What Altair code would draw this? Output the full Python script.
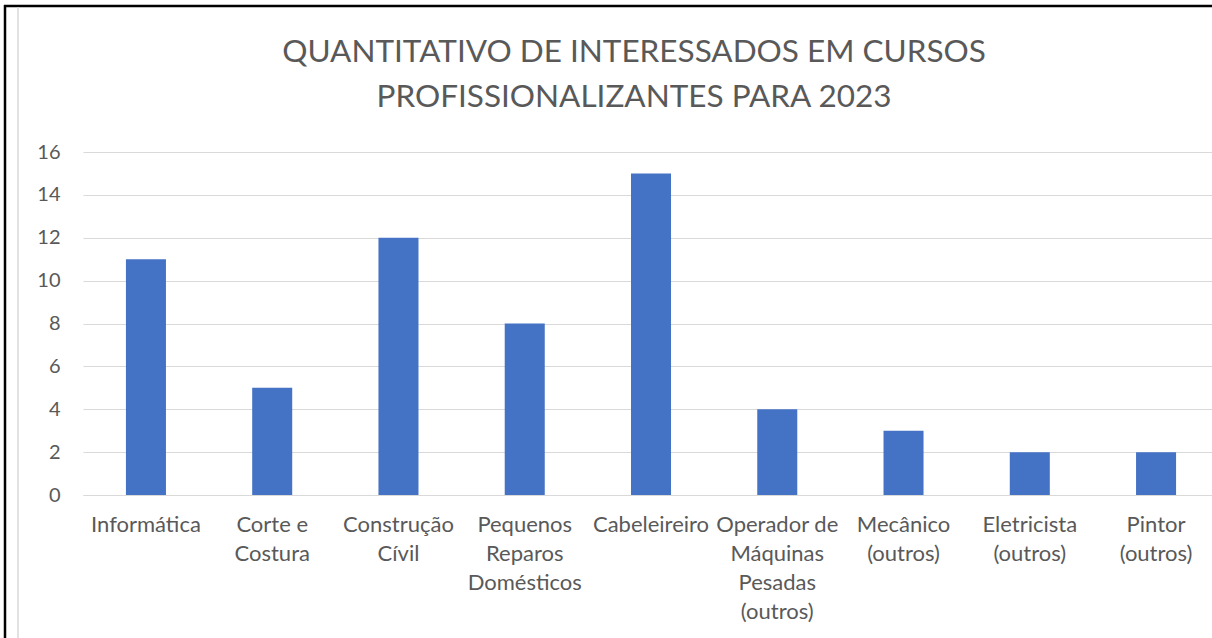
import altair as alt
import pandas as pd

categories = [
    "Informática",
    "Corte e|Costura",
    "Construção|Cívil",
    "Pequenos|Reparos|Domésticos",
    "Cabeleireiro",
    "Operador de|Máquinas|Pesadas|(outros)",
    "Mecânico|(outros)",
    "Eletricista|(outros)",
    "Pintor|(outros)",
]
values = [11, 5, 12, 8, 15, 4, 3, 2, 2]
y_ticks = [0, 2, 4, 6, 8, 10, 12, 14, 16]
title_lines = ["QUANTITATIVO DE INTERESSADOS EM CURSOS", "PROFISSIONALIZANTES PARA 2023"]

df = pd.DataFrame({"curso": categories, "qtd": values})
title_df = pd.DataFrame({"line": title_lines, "row": [0, 1]})

FONT = "Lato"
TXT = "#595959"

bars = alt.Chart(df).mark_bar(color="#4472C4").encode(
    x=alt.X(
        "curso:N",
        sort=categories,
        title=None,
        scale=alt.Scale(paddingInner=0.683, paddingOuter=0.34, range=[0, 1136]),
        axis=alt.Axis(
            labelExpr="split(datum.label, '|')",
            labelAngle=0,
            labelFontSize=22,
            labelLineHeight=29,
            labelColor=TXT,
            labelFont=FONT,
            labelPadding=19,
            labelLimit=300,
            labelOverlap=False,
            ticks=False,
            domainColor="#d9d9d9",
            domainWidth=1,
            labelBaseline="top",
        ),
    ),
    y=alt.Y(
        "qtd:Q",
        title=None,
        scale=alt.Scale(domain=[0, 16], nice=False),
        axis=alt.Axis(
            values=y_ticks,
            labelFontSize=20,
            labelColor=TXT,
            labelFont=FONT,
            labelPadding=23,
            ticks=False,
            domain=False,
            gridColor="#d9d9d9",
            gridWidth=1,
        ),
    ),
)

title_text = alt.Chart(title_df).mark_text(
    font=FONT, fontSize=31.5, color=TXT, align="center", baseline="middle"
).encode(
    text="line:N",
    x=alt.value(551),
    y=alt.Y("row:Q", axis=None, scale=alt.Scale(domain=[0, 1], range=[-99, -54])),
)

frame_df = pd.DataFrame({"k": [0]})
left_black = alt.Chart(frame_df).mark_rule(color="black", strokeWidth=2.5).encode(
    x=alt.value(-78), y=alt.value(-147), y2=alt.value(490)
)
top_black = alt.Chart(frame_df).mark_rule(color="black", strokeWidth=2.5).encode(
    x=alt.value(-79), x2=alt.value(1135), y=alt.value(-146)
)
gray_inner = alt.Chart(frame_df).mark_rule(color="#d9d9d9", strokeWidth=1.5).encode(
    x=alt.value(-65), y=alt.value(-145), y2=alt.value(490)
)

chart = (
    alt.layer(bars, title_text, left_black, top_black, gray_inner)
    .resolve_scale(y="independent")
    .properties(
        width=1129,
        height=343,
        autosize=alt.AutoSizeParams(type="none"),
        padding={"left": 83, "top": 152, "right": 0, "bottom": 143},
        view=alt.ViewBackground(strokeOpacity=0, strokeWidth=0),
    )
    .configure_view(strokeWidth=0, strokeOpacity=0)
    .configure(background="white")
)

chart.save("out.html", embed_options={"renderer": "svg", "actions": False})
